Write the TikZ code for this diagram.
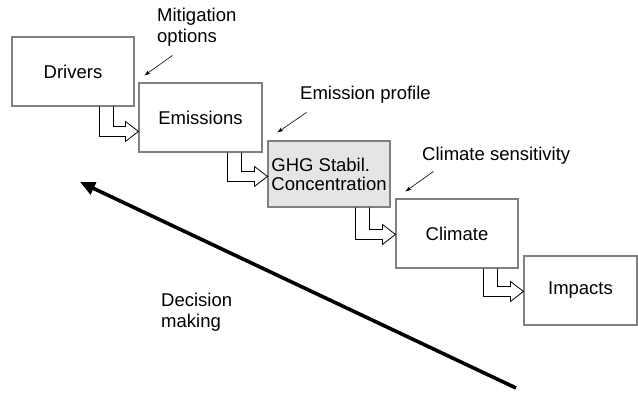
\documentclass[tikz,border=0pt]{standalone}
\usepackage{fontspec}
\setmainfont{Liberation Sans}
\usetikzlibrary{arrows.meta}

% bent block arrow from the bottom of one stage into the side of the next
\newcommand{\stepflow}[3]{%
  \coordinate (#2 tip) at ([yshift=-#3]#2.north west);
  \draw[flow] ([xshift=-35pt]#1.south east) |- ([xshift=-13pt,yshift=-5pt]#2 tip)
    -- ++(0,-5pt) -- (#2 tip) -- ++(-13pt,10pt) -- ++(0,-5pt)
    -| ([xshift=-21pt]#1.south east);
}

\begin{document}
\begin{tikzpicture}[x=1pt,y=1pt,font=\fontsize{18.5}{21}\selectfont,
    stage/.style={draw=gray,line width=1.1pt,minimum width=122pt,minimum height=69pt,inner sep=0pt,align=center},
    flow/.style={line width=0.8pt,line join=miter},
    note/.style={-{Stealth[length=6pt,width=4pt]},line width=0.6pt},
    decide/.style={-{Triangle[length=15pt,width=13pt]},line width=3.6pt},
    label/.style={inner sep=0pt,anchor=west,align=left}]
        \useasboundingbox (0,0) rectangle (638,392);

        \node[stage] (drivers) at (73,320.5) {Drivers};
        \node[stage,minimum width=123pt] (emissions) at (200.5,274.5) {Emissions};
        \node[stage,fill=gray!20,minimum height=66pt,align=left,font=\fontsize{18.5}{19}\selectfont] (ghg) at (329,218) {GHG Stabil.\\Concentration};
        \node[stage] (climate) at (457,158.5) {Climate};
        \node[stage,minimum width=113pt] (impacts) at (580.5,101.5) {Impacts};

        \stepflow{drivers}{emissions}{49pt}
        \stepflow{emissions}{ghg}{36pt}
        \stepflow{ghg}{climate}{36pt}
        \stepflow{climate}{impacts}{36pt}

        \node[label] (mitig) at (157,365) {Mitigation\\options};
        \node[label] (profile) at (300,297) {Emission profile};
        \node[label] (sens) at (422,236) {Climate sensitivity};
        \node[label] (decision) at (161,79.5) {Decision\\making};

        \coordinate (mitig from) at ([shift={(34pt,27pt)}]emissions.north west);
        \coordinate (profile from) at ([shift={(39pt,28pt)}]ghg.north west);
        \coordinate (sens from) at ([shift={(38pt,27pt)}]climate.north west);
        \draw[note] (mitig from) -- ([shift={(6pt,7pt)}]emissions.north west);
        \draw[note] (profile from) -- ([shift={(10pt,8pt)}]ghg.north west);
        \draw[note] (sens from) -- ([shift={(10pt,7pt)}]climate.north west);

        \coordinate (decide from) at (516,4);
        \coordinate (decide to) at (80,210);
        \draw[decide] (decide from) -- (decide to);
\end{tikzpicture}
\end{document}
